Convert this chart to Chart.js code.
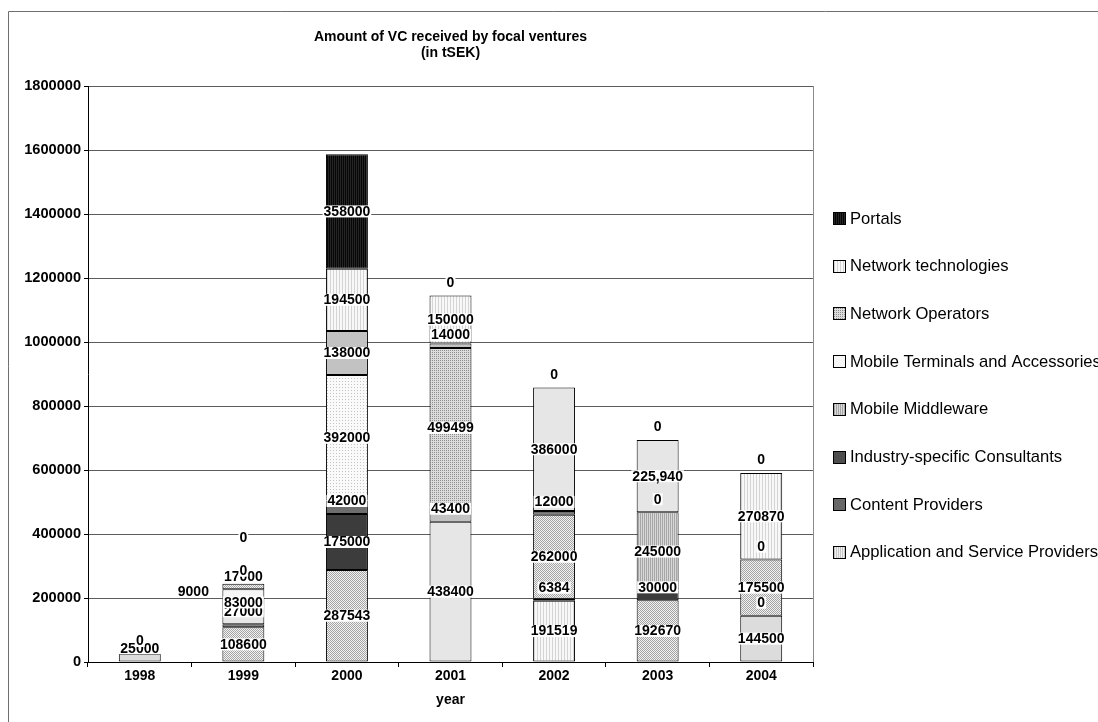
<!DOCTYPE html>
<html>
<head>
<meta charset="utf-8">
<title>Amount of VC received by focal ventures</title>
<script src="https://cdn.jsdelivr.net/npm/chart.js@4.4.1/dist/chart.umd.min.js"></script>
<style>
  html, body { margin: 0; padding: 0; background: #fff; }
  #wrap { width: 1098px; height: 722px; position: relative; }
</style>
</head>
<body>
<div id="wrap"><canvas id="chart"></canvas></div>
<script>
// Categories and series (stacked bottom to top), amounts in tSEK
const years = ['1998', '1999', '2000', '2001', '2002', '2003', '2004'];
const seriesNames = [
  'Application and Service Providers',
  'Content Providers',
  'Industry-specific Consultants',
  'Mobile Middleware',
  'Mobile Terminals and Accessories',
  'Network Operators',
  'Network technologies',
  'Portals'
];
const appServiceProviders = [25000, 108600, 287543, 438400, 191519, 192670, 144500];
const contentProviders    = [null, 9000, 175000, null, null, 30000, 0];
const industryConsultants = [null, null, 42000, null, null, null, null];
const mobileMiddleware    = [null, 27000, null, 43400, 6384, 245000, null];
const mobileTerminals     = [null, 83000, 392000, 499499, 262000, 0, 175500];
const networkOperators    = [null, 17000, 138000, 14000, 12000, null, 0];
const networkTechnologies = [null, 0, 194500, 150000, 386000, 225940, 270870];
const portals             = [0, 0, 358000, 0, 0, 0, 0];
const yTicks = [0, 200000, 400000, 600000, 800000, 1000000, 1200000, 1400000, 1600000, 1800000];

const seriesValues = [appServiceProviders, contentProviders, industryConsultants, mobileMiddleware,
                      mobileTerminals, networkOperators, networkTechnologies, portals];

const FONT = '"Liberation Sans", Arial, Helvetica, sans-serif';
Chart.defaults.font.family = FONT;
Chart.defaults.color = '#000';

// ---- fill textures ----
function tile(w, h, bg, fg, cells) {
  const c = document.createElement('canvas');
  c.width = w; c.height = h;
  const g = c.getContext('2d');
  g.fillStyle = bg; g.fillRect(0, 0, w, h);
  g.fillStyle = fg;
  cells.forEach(([x, y]) => g.fillRect(x, y, 1, 1));
  return g.createPattern(c, 'repeat');
}
const looks = {
  black:    tile(2, 1, '#060606', '#262626', [[0, 0]]),
  dark:     '#3c3c3c',
  dark2:    '#4e4e4e',
  mid:      '#6e6e6e',
  mid2:     '#676767',
  gray:     '#c2c2c2',
  light:    '#e6e6e6',
  light2:   '#dcdcdc',
  white:    '#f6f6f6',
  check:    tile(2, 2, '#f2f2f2', '#a4a4a4', [[0, 0], [1, 1]]),
  dots:     tile(2, 2, '#dcdcdc', '#8e8e8e', [[0, 0]]),
  dotsPale: tile(3, 3, '#fafafa', '#c4c4c4', [[0, 0]]),
  vpale:    tile(3, 1, '#f8f8f8', '#d4d4d4', [[0, 0]]),
  vmid:     tile(2, 1, '#d8d8d8', '#a6a6a6', [[0, 0]]),
  vlight:   tile(2, 1, '#f0f0f0', '#c6c6c6', [[0, 0]])
};
// texture of each segment (series x year)
const segmentLooks = [
  ['light2', 'check', 'check', 'light', 'vpale', 'check', 'light2'],
  ['dark', 'mid', 'dark', 'dark', 'dark', 'dark', 'dark'],
  ['mid', 'mid', 'mid', 'mid', 'mid', 'mid', 'mid'],
  ['vmid', 'light', 'vmid', 'gray', 'gray', 'vmid', 'vmid'],
  ['white', 'white', 'dotsPale', 'dots', 'check', 'white', 'check'],
  ['gray', 'check', 'gray', 'gray', 'mid', 'gray', 'gray'],
  ['vpale', 'vpale', 'vpale', 'vpale', 'light', 'light', 'vpale'],
  ['black', 'black', 'black', 'black', 'black', 'black', 'black']
];
const legendLooks = ['vlight', 'mid2', 'dark2', 'vmid', 'white', 'dots', 'vpale', 'black'];

// labels shown with a thousands separator, and labels moved aside
const commaLabels = new Set(['6:5']);
const labelNudges = { '1:1': [-50, -23], '7:1': [0, -33] };

const datasets = seriesNames.map((name, si) => ({
  label: name,
  data: seriesValues[si],
  backgroundColor: ctx => looks[segmentLooks[si][ctx.dataIndex]] || '#ccc',
  borderColor: '#000',
  borderWidth: 1,
  borderSkipped: false,
  categoryPercentage: 1.0,
  barPercentage: 0.405
}));

// thin outer frame and right edge of the plot
const framePlugin = {
  id: 'frame',
  beforeDraw(chart) {
    const ctx = chart.ctx;
    ctx.save();
    ctx.strokeStyle = '#6f6f6f';
    ctx.lineWidth = 1;
    ctx.beginPath();
    ctx.moveTo(8.5, chart.height);
    ctx.lineTo(8.5, 11.5);
    ctx.lineTo(chart.width, 11.5);
    ctx.stroke();
    ctx.restore();
  },
  beforeDatasetsDraw(chart) {
    const { ctx, chartArea } = chart;
    ctx.save();
    ctx.strokeStyle = '#8a8a8a';
    ctx.lineWidth = 1;
    ctx.beginPath();
    ctx.moveTo(Math.round(chartArea.right) + 0.5, chartArea.top);
    ctx.lineTo(Math.round(chartArea.right) + 0.5, chartArea.bottom);
    ctx.stroke();
    ctx.restore();
  }
};

// value labels on each segment, on a white box
const labelPlugin = {
  id: 'segmentLabels',
  afterDatasetsDraw(chart) {
    const ctx = chart.ctx;
    ctx.save();
    ctx.font = 'bold 14px ' + FONT;
    ctx.textAlign = 'center';
    ctx.textBaseline = 'middle';
    chart.data.datasets.forEach((ds, si) => {
      const meta = chart.getDatasetMeta(si);
      meta.data.forEach((bar, i) => {
        const v = ds.data[i];
        if (v === null || v === undefined) return;
        const p = bar.getProps(['x', 'y', 'base'], true);
        const key = si + ':' + i;
        const text = commaLabels.has(key) ? v.toLocaleString('en-US') : String(v);
        let x = p.x;
        let y = Math.min((p.y + p.base) / 2, p.base - 13);
        if (labelNudges[key]) { x += labelNudges[key][0]; y += labelNudges[key][1]; }
        const w = ctx.measureText(text).width;
        ctx.fillStyle = '#fff';
        ctx.fillRect(x - w / 2 - 1, y - 6, w + 2, 12);
        ctx.fillStyle = '#000';
        ctx.fillText(text, x, y + 0.5);
      });
    });
    ctx.restore();
  }
};

// legend at the right, top entry = top of the stack
const legendPlugin = {
  id: 'sideLegend',
  afterDraw(chart) {
    const ctx = chart.ctx;
    ctx.save();
    ctx.font = '16.6px ' + FONT;
    ctx.textAlign = 'left';
    ctx.textBaseline = 'middle';
    const order = seriesNames.map((n, i) => i).reverse();
    order.forEach((si, row) => {
      const cy = 218 + row * 47.7;
      const bx = 833.5, by = Math.round(cy - 6) + 0.5;
      ctx.fillStyle = looks[legendLooks[si]];
      ctx.fillRect(bx, by, 12, 12);
      ctx.strokeStyle = '#000';
      ctx.lineWidth = 1;
      ctx.strokeRect(bx, by, 12, 12);
      ctx.fillStyle = '#000';
      ctx.fillText(seriesNames[si], 850, cy + 1);
    });
    ctx.restore();
  }
};

new Chart(document.getElementById('chart'), {
  type: 'bar',
  data: { labels: years, datasets },
  options: {
    responsive: true,
    maintainAspectRatio: false,
    animation: false,
    events: [],
    layout: { padding: { top: 12, left: 0, right: 285, bottom: 0 } },
    plugins: {
      legend: { display: false },
      tooltip: { enabled: false },
      title: {
        display: true,
        fullSize: false,
        text: ['Amount of VC received by focal ventures', '(in tSEK)'],
        font: { size: 14, weight: 'bold', lineHeight: 1.15 },
        color: '#000',
        padding: { top: 17, bottom: 24.8 }
      }
    },
    scales: {
      x: {
        stacked: true,
        afterFit: s => { s.height = 60; },
        grid: { display: true, drawOnChartArea: false, drawTicks: true, tickLength: 5,
                tickColor: '#000', offset: true },
        border: { display: true, color: '#000', width: 1 },
        ticks: { font: { size: 14, weight: 'bold' }, color: '#000', padding: 1 },
        title: { display: true, text: 'year', font: { size: 14, weight: 'bold' },
                 color: '#000', padding: { top: 0, bottom: 13.6 } }
      },
      y: {
        stacked: true,
        min: 0,
        max: 1800000,
        afterFit: s => { s.width = 88; },
        afterBuildTicks: s => { s.ticks = yTicks.map(v => ({ value: v })); },
        grid: { color: '#5c5c5c', lineWidth: 1, drawTicks: true, tickLength: 4, tickColor: '#000' },
        border: { display: true, color: '#000', width: 1 },
        ticks: { font: { size: 14.6, weight: 'bold' }, color: '#000', padding: 3,
                 callback: v => String(v) }
      }
    }
  },
  plugins: [framePlugin, labelPlugin, legendPlugin]
});
</script>
</body>
</html>
